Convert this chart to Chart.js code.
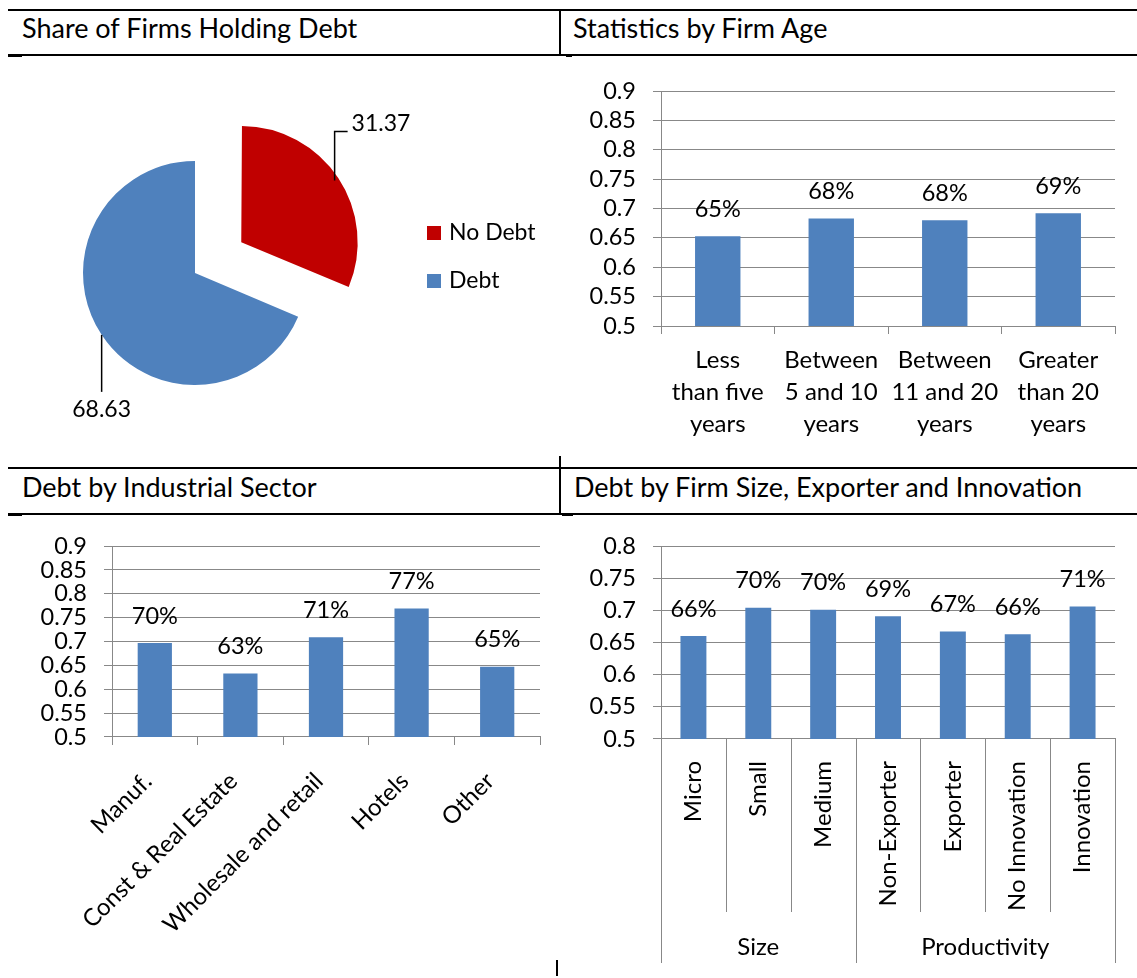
<!DOCTYPE html>
<html>
<head>
<meta charset="utf-8">
<script src="https://cdn.jsdelivr.net/npm/chart.js@4.4.0/dist/chart.umd.min.js"></script>
<style>
  body { margin: 0; background: #fff; }
  #page { position: relative; width: 1137px; height: 978px; overflow: hidden; font-family: Lato, sans-serif; }
  .hl { position: absolute; height: 2px; background: #000; }
  .vl { position: absolute; width: 2px; background: #000; }
  .title { position: absolute; font-size: 27px; line-height: 30px; height: 30px; color: #000; white-space: nowrap; }
  canvas { position: absolute; }
</style>
</head>
<body>
<div id="page">
  <!-- table borders round the panel titles -->
  <div class="hl" style="left:8px; top:9px; width:1129px;"></div>
  <div class="hl" style="left:8px; top:54px; width:1129px;"></div>
  <div class="vl" style="left:559px; top:9px; height:47px;"></div>
  <div class="hl" style="left:8px; top:55px; width:14px;"></div>
  <div class="hl" style="left:566px; top:55px; width:6px;"></div>
  <div class="vl" style="left:559px; top:456px; height:58px;"></div>
  <div class="hl" style="left:8px; top:467px; width:1129px;"></div>
  <div class="hl" style="left:8px; top:513px; width:1129px;"></div>
  <div class="hl" style="left:8px; top:514px; width:14px;"></div>
  <div class="hl" style="left:562px; top:514px; width:11px;"></div>
  <div class="vl" style="left:556px; top:960px; height:16px;"></div>

  <div class="title" style="left:22px; top:13px;">Share of Firms Holding Debt</div>
  <div class="title" style="left:573px; top:13px;">Statistics by Firm Age</div>
  <div class="title" style="left:22px; top:472px;">Debt by Industrial Sector</div>
  <div class="title" style="left:574px; top:472px;">Debt by Firm Size, Exporter and Innovation</div>

  <canvas id="pie" width="558" height="400" style="left:0; top:60px;"></canvas>
  <canvas id="age" width="577" height="400" style="left:560px; top:60px;"></canvas>
  <canvas id="sector" width="560" height="463" style="left:0; top:515px;"></canvas>
  <canvas id="size" width="577" height="463" style="left:560px; top:515px;"></canvas>
</div>

<script>
// --- data ---
const pieLabels = ['No Debt', 'Debt'];
const pieValues = [31.37, 68.63];
const pieColors = ['#C00000', '#4F81BD'];

const ageLabels = [['Less', 'than five', 'years'], ['Between', '5 and 10', 'years'], ['Between', '11 and 20', 'years'], ['Greater', 'than 20', 'years']];
const ageValues = [0.653, 0.683, 0.68, 0.692];
const ageTicks = [0.5, 0.55, 0.6, 0.65, 0.7, 0.75, 0.8, 0.85, 0.9];

const sectorLabels = ['Manuf.', 'Const & Real Estate', 'Wholesale and retail', 'Hotels', 'Other'];
const sectorValues = [0.697, 0.633, 0.709, 0.769, 0.647];
const sectorTicks = [0.5, 0.55, 0.6, 0.65, 0.7, 0.75, 0.8, 0.85, 0.9];

const sizeLabels = ['Micro', 'Small', 'Medium', 'Non-Exporter', 'Exporter', 'No Innovation', 'Innovation'];
const sizeValues = [0.66, 0.704, 0.701, 0.691, 0.667, 0.663, 0.706];
const sizeTicks = [0.5, 0.55, 0.6, 0.65, 0.7, 0.75, 0.8];
const sizeGroups = ['Size', 'Productivity'];
const sizeGroupCounts = [3, 4];

const FONT = 'Lato';
const GRID = '#888888';
const BAR = '#4F81BD';

Chart.defaults.font.family = FONT;
Chart.defaults.color = '#000';

// percent labels above the bars
const barLabels = {
  id: 'barLabels',
  afterDatasetsDraw(chart) {
    const ctx = chart.ctx;
    const vals = chart.data.datasets[0].data;
    ctx.save();
    ctx.font = '23.5px ' + FONT;
    ctx.fillStyle = '#000';
    ctx.textAlign = 'center';
    ctx.textBaseline = 'middle';
    chart.getDatasetMeta(0).data.forEach((bar, i) => {
      ctx.fillText(Math.round(vals[i] * 100) + '%', bar.x, bar.y - 27);
    });
    ctx.restore();
  }
};

// leader lines, values and legend for the pie
const pieExtras = {
  id: 'pieExtras',
  afterDatasetsDraw(chart) {
    const ctx = chart.ctx;
    const vals = chart.data.datasets[0].data;
    ctx.save();
    ctx.strokeStyle = '#000';
    ctx.lineWidth = 1.5;
    ctx.fillStyle = '#000';
    ctx.font = '23px ' + FONT;
    chart.getDatasetMeta(0).data.forEach((arc, i) => {
      const mid = (arc.startAngle + arc.endAngle) / 2;
      const off = (arc.options.offset || 0) / 4;
      const px = arc.x + Math.cos(mid) * (off + arc.outerRadius);
      const py = arc.y + Math.sin(mid) * (off + arc.outerRadius);
      ctx.beginPath();
      if (py < arc.y) {
        ctx.moveTo(px, py);
        ctx.lineTo(px, py - 49);
        ctx.lineTo(px + 13, py - 49);
        ctx.stroke();
        ctx.textAlign = 'left';
        ctx.textBaseline = 'middle';
        ctx.fillText(vals[i].toFixed(2), px + 17, py - 57);
      } else {
        ctx.moveTo(px, py);
        ctx.lineTo(px, py + 57);
        ctx.stroke();
        ctx.textAlign = 'center';
        ctx.textBaseline = 'middle';
        ctx.fillText(vals[i].toFixed(2), px, py + 75);
      }
    });
    // legend
    const lx = 427, ly = 173;
    chart.data.labels.forEach((lab, i) => {
      ctx.fillStyle = pieColors[i];
      ctx.fillRect(lx, ly + i * 48 - 7, 14, 14);
      ctx.fillStyle = '#000';
      ctx.textAlign = 'left';
      ctx.textBaseline = 'middle';
      ctx.fillText(lab, lx + 22, ly + i * 48);
    });
    ctx.restore();
  }
};

new Chart(document.getElementById('pie'), {
  type: 'pie',
  data: {
    labels: pieLabels,
    datasets: [{ data: pieValues, backgroundColor: pieColors, borderWidth: 0, offset: [222, 0] }]
  },
  options: {
    responsive: false,
    animation: false,
    radius: 112,
    layout: { padding: { top: 26, right: 168, left: 0, bottom: 0 } },
    plugins: { legend: { display: false }, tooltip: { enabled: false } }
  },
  plugins: [pieExtras]
});

function yAxis(ticksArr, width) {
  return {
    min: ticksArr[0],
    max: ticksArr[ticksArr.length - 1],
    afterBuildTicks: s => { s.ticks = ticksArr.map(v => ({ value: v })); },
    afterFit: s => { s.width = width; },
    grid: { color: GRID, lineWidth: 1, tickLength: 8 },
    border: { color: GRID, width: 1 },
    ticks: { font: { size: 23.5 }, padding: 17, autoSkip: false, callback: v => String(v) }
  };
}

function barChart(id, labels, values, ticksArr, yWidth, xAxis, pad, extra) {
  return new Chart(document.getElementById(id), {
    type: 'bar',
    data: {
      labels: labels,
      datasets: [{ data: values, backgroundColor: BAR, barPercentage: 0.4, categoryPercentage: 1 }]
    },
    options: {
      responsive: false,
      animation: false,
      layout: { padding: pad },
      plugins: { legend: { display: false }, tooltip: { enabled: false } },
      scales: { x: xAxis, y: yAxis(ticksArr, yWidth) }
    },
    plugins: [barLabels].concat(extra || [])
  });
}

// Statistics by Firm Age
barChart('age', ageLabels, ageValues, ageTicks, 101, {
  afterFit: s => { s.height = 134; },
  grid: { drawOnChartArea: false, tickLength: 8, color: GRID },
  border: { color: GRID },
  ticks: { font: { size: 24, lineHeight: 1.34 }, padding: 10, maxRotation: 0, autoSkip: false }
}, { top: 26, right: 22, left: 0, bottom: 0 });

// Debt by Industrial Sector
barChart('sector', sectorLabels, sectorValues, sectorTicks, 112, {
  afterFit: s => { s.height = 241; },
  grid: { drawOnChartArea: false, tickLength: 8, color: GRID },
  border: { color: GRID },
  ticks: { font: { size: 24, lineHeight: 1.2 }, padding: 22, labelOffset: -7, minRotation: 45, maxRotation: 45, autoSkip: false }
}, { top: 30, right: 20, left: 0, bottom: 0 });

// Debt by Firm Size, Exporter and Innovation: category lines and group names under the axis
const groupLines = {
  id: 'groupLines',
  afterDraw(chart) {
    const x = chart.scales.x;
    const ctx = chart.ctx;
    const n = x.ticks.length;
    const top = chart.chartArea.bottom;
    const half = (x.getPixelForTick(1) - x.getPixelForTick(0)) / 2;
    const edges = [0];
    sizeGroupCounts.forEach(c => edges.push(edges[edges.length - 1] + c));
    ctx.save();
    ctx.strokeStyle = GRID;
    ctx.lineWidth = 1;
    for (let k = 0; k <= n; k++) {
      const px = Math.round(k < n ? x.getPixelForTick(k) - half : x.getPixelForTick(n - 1) + half) + 0.5;
      ctx.beginPath();
      ctx.moveTo(px, top);
      ctx.lineTo(px, top + (edges.includes(k) ? 224 : 173));
      ctx.stroke();
    }
    ctx.fillStyle = '#000';
    ctx.font = '24px ' + FONT;
    ctx.textAlign = 'center';
    ctx.textBaseline = 'middle';
    sizeGroups.forEach((g, i) => {
      const cx = (x.getPixelForTick(edges[i]) + x.getPixelForTick(edges[i + 1] - 1)) / 2;
      ctx.fillText(g, cx, top + 208);
    });
    ctx.restore();
  }
};

barChart('size', sizeLabels, sizeValues, sizeTicks, 101, {
  afterFit: s => { s.height = 239; },
  grid: { display: false },
  border: { color: GRID },
  ticks: { font: { size: 24, lineHeight: 1.2 }, padding: 14, minRotation: 90, maxRotation: 90, autoSkip: false }
}, { top: 30, right: 22, left: 0, bottom: 0 }, [groupLines]);
</script>
</body>
</html>
